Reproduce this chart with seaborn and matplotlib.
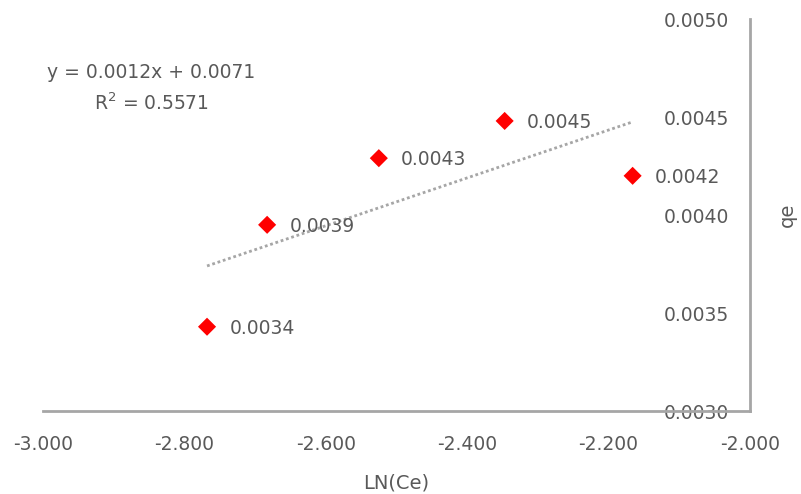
import seaborn as sns
import matplotlib.pyplot as plt
import numpy as np
import pandas as pd

# data
ln_ce = [-2.768, -2.683, -2.525, -2.347, -2.166]
qe = [0.00343, 0.00395, 0.00429, 0.00448, 0.00420]
point_labels = ["0.0034", "0.0039", "0.0043", "0.0045", "0.0042"]
x_ticks = [-3.0, -2.8, -2.6, -2.4, -2.2, -2.0]
y_ticks = [0.0030, 0.0035, 0.0040, 0.0045, 0.0050]
equation = "y = 0.0012x + 0.0071\nR$^2$ = 0.5571"

sns.set_theme(style="white")
plt.rcParams['font.family'] = ['DejaVu Sans']
grey = "#595959"

df = pd.DataFrame({"LN(Ce)": ln_ce, "qe": qe})

fig = plt.figure(figsize=(8.01, 4.94), dpi=100)
ax = fig.add_axes([0.0537, 0.168, 0.8826, 0.7935])

# linear trendline (dotted)
slope, icpt = np.polyfit(ln_ce, qe, 1)
xs = np.array([min(ln_ce), max(ln_ce)])
ax.plot(xs, slope * xs + icpt, color="#a6a6a6", lw=2, ls=(0, (1, 1)), zorder=1)

sns.scatterplot(data=df, x="LN(Ce)", y="qe", marker="D", s=85, color="#ff0000",
                edgecolor="none", ax=ax, zorder=3)

for x, y, t in zip(ln_ce, qe, point_labels):
    ax.annotate(t, (x, y), xytext=(16, -1), textcoords="offset points",
                ha="left", va="center", fontsize=13.5, color=grey)

ax.text(0.153, 0.824, equation, transform=ax.transAxes, ha="center", va="center",
        fontsize=13.5, color=grey, linespacing=1.6)

ax.set_xlim(-3.0, -2.0)
ax.set_ylim(0.0030, 0.0050)
ax.set_xticks(x_ticks)
ax.set_xticklabels(["%.3f" % v for v in x_ticks])
ax.set_yticks(y_ticks)
ax.set_yticklabels(["%.4f" % v for v in y_ticks])

for s in ["left", "top"]:
    ax.spines[s].set_visible(False)
for s in ["right", "bottom"]:
    ax.spines[s].set_color("#a6a6a6")
    ax.spines[s].set_linewidth(2)

ax.yaxis.tick_right()
ax.tick_params(axis="y", length=0, pad=-15, labelsize=13.5, labelcolor=grey)
for lab in ax.get_yticklabels():
    lab.set_horizontalalignment("right")
ax.tick_params(axis="x", length=0, pad=17, labelsize=13.5, labelcolor=grey)

ax.set_xlabel("LN(Ce)", fontsize=14, color=grey, labelpad=14)
ax.yaxis.set_label_position("right")
ax.set_ylabel("qe", fontsize=14, color=grey, labelpad=20)

plt.savefig("out.png", dpi=100)
